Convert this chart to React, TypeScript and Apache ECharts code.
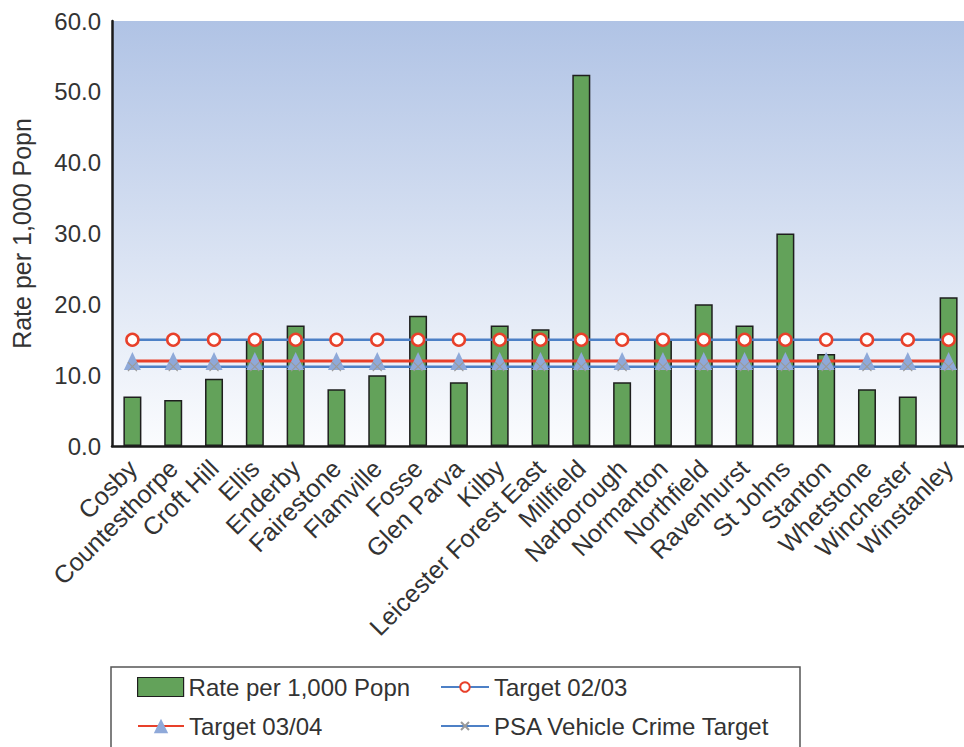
import React, { useEffect, useRef } from "react";
import * as echarts from "echarts";

const categories = [
  "Cosby", "Countesthorpe", "Croft Hill", "Ellis", "Enderby", "Fairestone", "Flamville",
  "Fosse", "Glen Parva", "Kilby", "Leicester Forest East", "Millfield", "Narborough",
  "Normanton", "Northfield", "Ravenhurst", "St Johns", "Stanton", "Whetstone",
  "Winchester", "Winstanley",
];
const rateValues = [7.0, 6.5, 9.5, 15.0, 17.0, 8.0, 10.0, 18.4, 9.0, 17.0, 16.5, 52.4, 9.0, 15.0, 20.0, 17.0, 30.0, 13.0, 8.0, 7.0, 21.0];
const target0203 = [15, 15, 15, 15, 15, 15, 15, 15, 15, 15, 15, 15, 15, 15, 15, 15, 15, 15, 15, 15, 15];
const target0304 = [12, 12, 12, 12, 12, 12, 12, 12, 12, 12, 12, 12, 12, 12, 12, 12, 12, 12, 12, 12, 12];
const psaTarget = [11.2, 11.2, 11.2, 11.2, 11.2, 11.2, 11.2, 11.2, 11.2, 11.2, 11.2, 11.2, 11.2, 11.2, 11.2, 11.2, 11.2, 11.2, 11.2, 11.2, 11.2];
const yTicks = { min: 0, max: 60, interval: 10 };

const FONT = "'Liberation Sans', Arial, Helvetica, sans-serif";
const TEXT = "#333333";
const BLUE = "#4d80c6";
const RED = "#e8402a";
const TRI = "#8fa9d9";

export default function App() {
  const ref = useRef<HTMLDivElement>(null);
  useEffect(() => {
    if (!ref.current) return;
    const chart = echarts.init(ref.current, undefined, { renderer: "svg" });
    const legendText = { fontFamily: FONT, fontSize: 24, color: TEXT };
    chart.setOption({
      animation: false,
      backgroundColor: "#ffffff",
      grid: {
        left: 112,
        width: 857,
        top: 21,
        bottom: 301,
        show: true,
        borderWidth: 0,
        backgroundColor: {
          type: "linear", x: 0, y: 0, x2: 0, y2: 1,
          colorStops: [
            { offset: 0, color: "#b0c3e5" },
            { offset: 1, color: "#fbfcfe" },
          ],
        },
      },
      xAxis: {
        type: "category",
        data: categories,
        axisLine: { show: true, lineStyle: { color: "#1a1a1a", width: 2.5 } },
        axisTick: { show: false },
        axisLabel: {
          rotate: 45,
          interval: 0,
          margin: 18,
          fontFamily: FONT,
          fontSize: 25,
          color: TEXT,
        },
        splitLine: { show: false },
      },
      yAxis: {
        type: "value",
        min: yTicks.min,
        max: yTicks.max,
        interval: yTicks.interval,
        name: "Rate per 1,000 Popn",
        nameLocation: "middle",
        nameGap: 78,
        nameTextStyle: { fontFamily: FONT, fontSize: 25, color: TEXT },
        axisLine: { show: true, lineStyle: { color: "#1a1a1a", width: 2.5 } },
        axisTick: { show: false },
        splitLine: { show: false },
        axisLabel: {
          margin: 11,
          fontFamily: FONT,
          fontSize: 24,
          color: TEXT,
          formatter: (v: number) => v.toFixed(1),
        },
      },
      legend: [
        {
          left: 137, top: 675, padding: 0, itemWidth: 46, itemHeight: 19, itemGap: 0,
          data: [{ name: "Rate per 1,000 Popn", icon: "rect" }], textStyle: legendText,
          itemStyle: { borderColor: "#1e1e1e", borderWidth: 1.2 },
        },
        {
          left: 440, top: 675, padding: 0, itemWidth: 48, itemHeight: 12, itemGap: 0,
          data: ["Target 02/03"], textStyle: { ...legendText, padding: [0, 0, 6, 0] },
        },
        {
          left: 137, top: 714, padding: 0, itemWidth: 46, itemHeight: 18, itemGap: 0,
          data: ["Target 03/04"], textStyle: { ...legendText, padding: [0, 0, 12, 0] },
        },
        {
          left: 440, top: 714, padding: 0, itemWidth: 48, itemHeight: 10, itemGap: 0,
          data: ["PSA Vehicle Crime Target"], textStyle: { ...legendText, padding: [0, 0, 12, 0] },
        },
      ],
      graphic: [
        {
          type: "rect",
          shape: { x: 111, y: 667, width: 689, height: 100 },
          style: { fill: "none", stroke: "#555555", lineWidth: 1.5 },
          silent: true,
        },
      ],
      series: [
        {
          name: "Rate per 1,000 Popn",
          type: "bar",
          data: rateValues,
          barWidth: 18,
          itemStyle: { color: "#63a25a", borderColor: "#1e1e1e", borderWidth: 1.5 },
        },
        {
          name: "Target 02/03",
          type: "line",
          data: target0203,
          symbol: "circle",
          symbolSize: 12,
          lineStyle: { color: BLUE, width: 2.5 },
          itemStyle: { color: "#ffffff", borderColor: RED, borderWidth: 2.5 },
        },
        {
          name: "Target 03/04",
          type: "line",
          data: target0304,
          symbol: "triangle",
          symbolSize: [17, 18],
          lineStyle: { color: RED, width: 3 },
          itemStyle: { color: TRI, borderWidth: 0 },
        },
        {
          name: "PSA Vehicle Crime Target",
          type: "line",
          data: psaTarget,
          symbol: "path://M0,0L10,10M10,0L0,10",
          symbolSize: 9,
          lineStyle: { color: BLUE, width: 2.5 },
          itemStyle: { color: "none", borderColor: "#9a9a9a", borderWidth: 1.2 },
        },
      ],
    });
    return () => chart.dispose();
  }, []);
  return (
    <div style={{ position: "absolute", left: 0, top: 0, width: 964, height: 747, overflow: "hidden" }}>
      <div ref={ref} style={{ width: 975, height: 747 }} />
    </div>
  );
}
